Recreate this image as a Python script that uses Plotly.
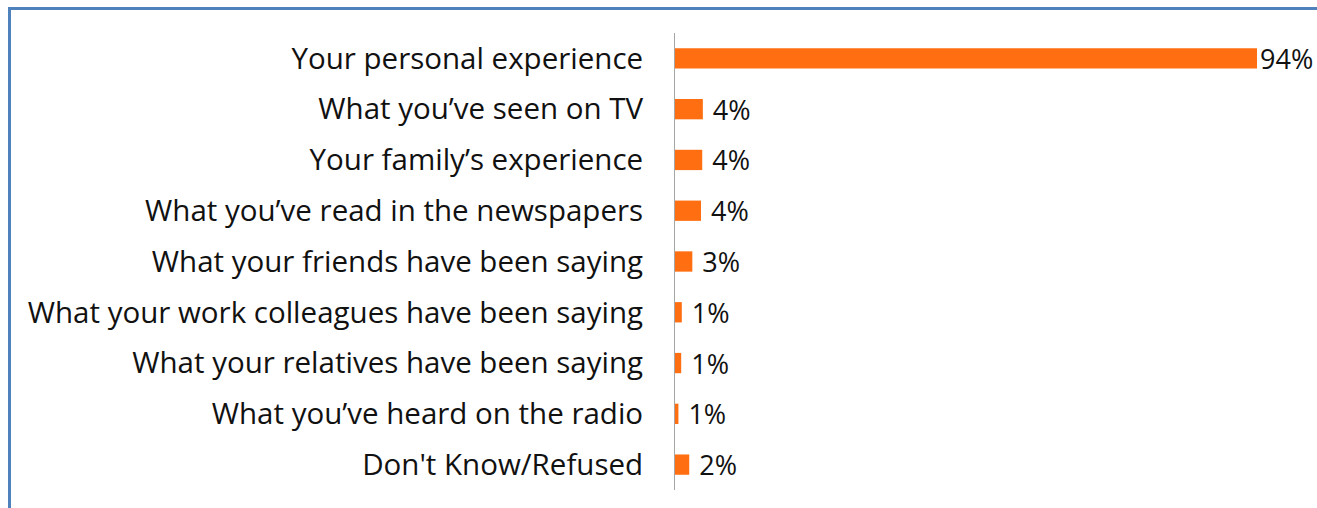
import plotly.graph_objects as go

categories = [
    "Your personal experience",
    "What you\u2019ve seen on TV",
    "Your family\u2019s experience",
    "What you\u2019ve read in the newspapers",
    "What your friends have been saying",
    "What your work colleagues have been saying",
    "What your relatives have been saying",
    "What you\u2019ve heard on the radio",
    "Don't Know/Refused",
]
values = [94, 4.5, 4.4, 4.2, 2.8, 1.1, 1.0, 0.55, 2.3]
value_labels = ["94%", "4%", "4%", "4%", "3%", "1%", "1%", "1%", "2%"]

W, H = 1317, 508
ml, mr, mt, mb = 675, 1317 - 1257, 33, 18
pw, ph = W - ml - mr, H - mt - mb

def px_x(p):
    return (p - ml) / pw

def px_y(p):
    return (H - mb - p) / ph

templates = ["%{text}"] + [" %{text}"] * (len(values) - 1)

fig = go.Figure(go.Bar(
    x=values,
    y=categories,
    orientation="h",
    marker=dict(color="#FF6F12", line=dict(width=0)),
    text=value_labels,
    texttemplate=templates,
    textposition="outside",
    constraintext="none",
    cliponaxis=False,
    textfont=dict(family="Open Sans", size=27, color="#111111"),
    hoverinfo="skip",
))

fig.update_layout(
    width=W, height=H,
    margin=dict(l=ml, r=mr, t=mt, b=mb, pad=0),
    paper_bgcolor="white",
    plot_bgcolor="white",
    showlegend=False,
    bargap=0.6,
    xaxis=dict(range=[0, 94], visible=False, fixedrange=True),
    yaxis=dict(
        autorange="reversed",
        showline=True, linecolor="#A6A6A6", linewidth=1,
        showgrid=False, zeroline=False, ticks="",
        ticklabelstandoff=25,
        tickfont=dict(family="Open Sans", size=29.5, color="#111111"),
        fixedrange=True,
    ),
    shapes=[dict(
        type="rect", xref="paper", yref="paper",
        x0=px_x(9.5), x1=px_x(1500),
        y0=px_y(600), y1=px_y(8.5),
        line=dict(color="#4F81BD", width=3),
        fillcolor="rgba(0,0,0,0)",
        layer="below",
    )],
)

fig.write_html(
    "out.html",
    config={"displayModeBar": False, "staticPlot": True},
    post_script="document.body.style.margin='0';document.body.style.overflow='hidden';",
)
